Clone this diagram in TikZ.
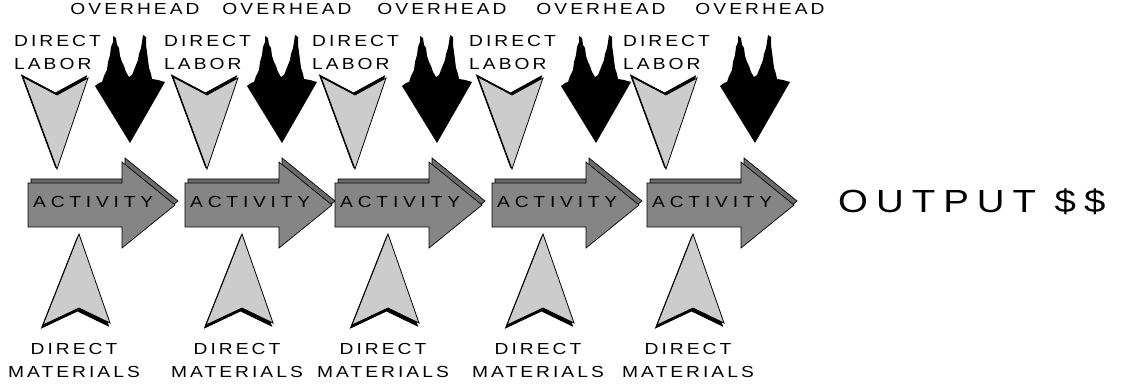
\documentclass[tikz,border=0pt]{standalone}
\usepackage{fontspec}
\setmainfont{Liberation Sans}
\newfontfamily\lblfont{Liberation Sans}[FakeStretch=1.2, LetterSpace=19]
\newfontfamily\actfont{Liberation Sans}[FakeStretch=1.2, LetterSpace=30]
\newfontfamily\outfont{Liberation Sans}[FakeStretch=1.2, LetterSpace=25]

\definecolor{actgray}{gray}{0.52}
\definecolor{actshade}{gray}{0.42}
\definecolor{palegray}{gray}{0.8}

\begin{document}
\begin{tikzpicture}[
  x=1pt, y=-1pt,
  lbl/.style={font=\lblfont\fontsize{16}{23}\selectfont, inner sep=0pt},
  actlbl/.style={font=\actfont\fontsize{16}{23}\selectfont, inner sep=0pt},
  actbody/.style={draw=black, line width=0.7pt, fill=actgray},
  actshadow/.style={actbody, fill=actshade},
  palearrow/.style={draw=black, line width=0.8pt, fill=palegray},
  darkshadow/.style={draw=black, line width=0.8pt, fill=black},
  ovharrow/.style={fill=black}
]
\useasboundingbox (0,0) rectangle (1143,387);

% one column per activity: arrow left / overhead tip / labor tip / materials tip
\foreach \a/\o/\l/\m [count=\i] in
  {28/130/57/79, 185/282/207/242, 335/437/355/388, 492/596/512/543, 647/755/666/693}{
  \begin{scope}[shift={(\a,0)}]
    \draw[actshadow, shift={(3,-4)}] (0,183) -- (94,183) -- (94,162) -- (147,205)
      -- (94,248) -- (94,227) -- (0,227) -- cycle;
    \draw[actbody] (0,183) -- (94,183) -- (94,162) -- (147,205)
      -- (94,248) -- (94,227) -- (0,227) -- cycle;
  \end{scope}
  \begin{scope}[shift={(\o,0)}]
    \fill[ovharrow] (0,143) -- (-35,86) -- (-31,83) -- (-28,82) -- (-26,76) -- (-23,70)
      -- (-22,62) -- (-20,55) -- (-19,47) -- (-17,42) -- (-17,36) -- (-14,38)
      -- (-13,45) -- (-11,48) -- (-10,56) -- (-8,62) -- (-6,66) -- (-4,72)
      -- (-1,77) -- (2,75) -- (4,70) -- (6,65) -- (8,60) -- (9,54) -- (11,48)
      -- (12,42) -- (13,35) -- (16,37) -- (16,45) -- (17,52) -- (18,60)
      -- (19,68) -- (21,74) -- (22,79) -- (28,80) -- (35,82) -- cycle;
  \end{scope}
  \begin{scope}[shift={(\l,0)}]
    \draw[darkshadow, shift={(-1.5,-2)}] (-34,77) -- (0,95) -- (31,78) -- (0,169) -- cycle;
    \draw[palearrow] (-34,77) -- (0,95) -- (31,78) -- (0,169) -- cycle;
  \end{scope}
  \begin{scope}[shift={(\m,0)}]
    \draw[darkshadow, shift={(-1.5,3)}] (0,234) -- (31,323) -- (0,308) -- (-36,325) -- cycle;
    \draw[palearrow] (0,234) -- (31,323) -- (0,308) -- (-36,325) -- cycle;
  \end{scope}

  \node[lbl, anchor=base] (oh\i) at (\o+5,15) {OVERHEAD};
  \node[lbl, anchor=north west, align=left] (dl\i) at (\l-43,35) {DIRECT\\LABOR};
  \node[actlbl, anchor=west] (act\i) at (\a+5,202) {ACTIVITY};
  \node[lbl, anchor=north, align=center] (dm\i) at (\m-5,343) {DIRECT\\MATERIALS};
}

\node[font=\outfont\fontsize{32}{38}\selectfont, inner sep=0pt, anchor=base west]
  (out) at (838,213) {OUTPUT \$\$};
\end{tikzpicture}
\end{document}
